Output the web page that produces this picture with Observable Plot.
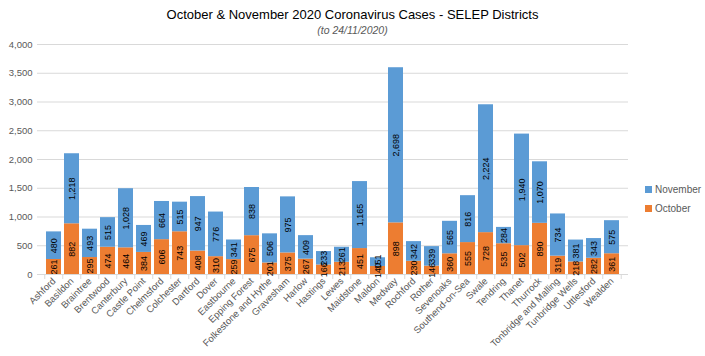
<!DOCTYPE html>
<html>
<head>
<meta charset="utf-8">
<script src="https://cdn.jsdelivr.net/npm/d3@7"></script>
<script src="https://cdn.jsdelivr.net/npm/@observablehq/plot@0.6"></script>
<style>
  html, body { margin: 0; padding: 0; background: #fff; }
  #wrap { position: relative; width: 705px; height: 356px; font-family: "Liberation Sans", Arial, sans-serif; }
  #title { position: absolute; left: 0; width: 705px; top: 7px; text-align: center; font-size: 13px; color: #000; }
  #subtitle { position: absolute; left: 0; width: 705px; top: 24px; text-align: center; font-size: 10.5px; font-style: italic; color: #595959; }
  #chart { position: absolute; left: 0; top: 36px; }
  #legend { position: absolute; left: 645px; top: 180px; font-size: 10px; color: #595959; }
  .item { display: flex; align-items: center; height: 19px; }
  .sw { width: 7px; height: 7px; margin-right: 3px; }
</style>
</head>
<body>
<div id="wrap">
  <div id="title">October &amp; November 2020 Coronavirus Cases - SELEP Districts</div>
  <div id="subtitle">(to 24/11/2020)</div>
  <div id="chart"></div>
  <div id="legend"></div>
</div>
<script>
const districts = ["Ashford","Basildon","Braintree","Brentwood","Canterbury","Castle Point","Chelmsford","Colchester","Dartford","Dover","Eastbourne","Epping Forest","Folkestone and Hythe","Gravesham","Harlow","Hastings","Lewes","Maidstone","Maldon","Medway","Rochford","Rother","Sevenoaks","Southend-on-Sea","Swale","Tendring","Thanet","Thurrock","Tonbridge and Malling","Tunbridge Wells","Uttlesford","Wealden"];
const october = [261,882,295,474,464,384,606,743,408,310,259,675,201,375,267,166,213,451,140,898,230,146,360,555,728,535,502,890,319,218,282,361];
const november = [480,1218,493,515,1028,469,664,515,947,776,341,838,506,975,409,233,261,1165,151,2698,342,339,565,816,2224,284,1940,1070,734,381,343,575];
const seriesNames = ["November","October"];
const seriesColors = ["#5B9BD5","#ED7D31"];
const yTicks = [0,500,1000,1500,2000,2500,3000,3500,4000];

const rows = districts.map((d, i) => ({district: d, oct: october[i], nov: november[i]}));
const fmt = d3.format(",");

const W = 705, ML = 37, MR = 77;
const halfStep = (W - ML - MR) / districts.length / 2;

const chart = Plot.plot({
  width: W,
  height: 320,
  marginTop: 8,
  marginBottom: 82,
  marginLeft: ML,
  marginRight: MR,
  style: {fontFamily: "Liberation Sans, Arial, sans-serif", fontSize: "9.5px", color: "#595959", background: "transparent"},
  x: {domain: districts, padding: 0.19, label: null},
  y: {domain: [0, 4000], label: null},
  marks: [
    Plot.gridY(yTicks, {stroke: "#d9d9d9", strokeOpacity: 1}),
    Plot.axisY(yTicks, {tickSize: 0, tickPadding: 5, tickFormat: fmt, label: null}),
    Plot.axisX({tickRotate: -45, tickSize: 0, tickPadding: 5, label: null}),
    Plot.barY(rows, {x: "district", y1: 0, y2: "oct", fill: seriesColors[1]}),
    Plot.barY(rows, {x: "district", y1: "oct", y2: d => d.oct + d.nov, fill: seriesColors[0]}),
    Plot.ruleY([0], {stroke: "#d9d9d9"}),
    Plot.ruleX(districts, {x: d => d, y1: 0, y2: 0, insetBottom: -5, dx: -halfStep, stroke: "#d9d9d9"}),
    Plot.ruleX(districts.slice(-1), {x: d => d, y1: 0, y2: 0, insetBottom: -5, dx: halfStep, stroke: "#d9d9d9"}),
    Plot.text(rows, {x: "district", y: d => d.oct / 2, text: d => fmt(d.oct), rotate: -90, fill: "#000", fontSize: 9}),
    Plot.text(rows, {x: "district", y: d => d.oct + d.nov / 2, text: d => fmt(d.nov), rotate: -90, fill: "#000", fontSize: 9})
  ]
});
document.getElementById("chart").appendChild(chart);

const legend = document.getElementById("legend");
seriesNames.forEach((n, i) => {
  const it = document.createElement("div");
  it.className = "item";
  it.innerHTML = `<span class="sw" style="background:${seriesColors[i]}"></span><span>${n}</span>`;
  legend.appendChild(it);
});
</script>
</body>
</html>
